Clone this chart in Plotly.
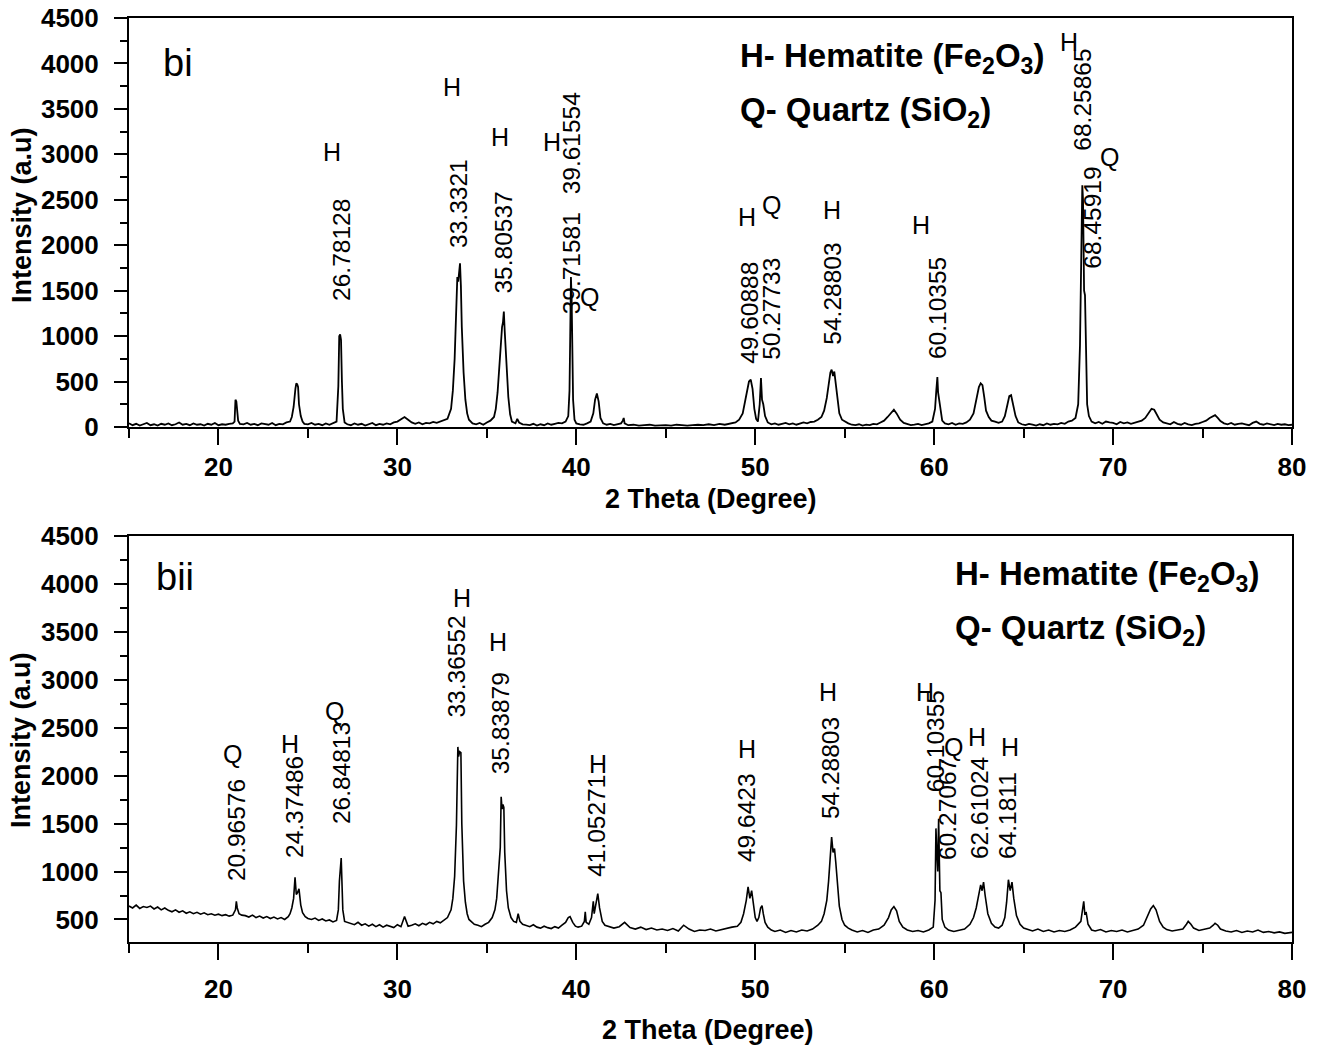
import plotly.graph_objects as go
from plotly.subplots import make_subplots

# ---------------- Panel bi : 2-theta / intensity ----------------
bi_theta = [
    15.0, 15.2, 15.4, 15.6, 15.8, 16.0, 16.2, 16.4, 16.6, 16.8,
    17.0, 17.2, 17.4, 17.6, 17.8, 18.0, 18.2, 18.4, 18.6, 18.8,
    19.0, 19.2, 19.4, 19.6, 19.8, 20.0, 20.2, 20.4, 20.6, 20.8,
    20.9, 20.95, 21.0, 21.05, 21.1, 21.2,
    21.4, 21.6, 21.8, 22.0, 22.2, 22.4, 22.6, 22.8, 23.0, 23.2, 23.4, 23.6, 23.8,
    24.0, 24.1, 24.2, 24.3, 24.35, 24.4, 24.45, 24.5, 24.6, 24.7, 24.8,
    25.0, 25.2, 25.4, 25.6, 25.8, 26.0, 26.2, 26.4,
    26.6, 26.7, 26.75, 26.8, 26.85, 26.9, 26.95, 27.05,
    27.2, 27.4, 27.6, 27.8, 28.0, 28.2, 28.4, 28.6, 28.8, 29.0, 29.2, 29.4, 29.6, 29.8,
    30.0, 30.2, 30.4, 30.6, 30.8,
    31.0, 31.2, 31.4, 31.6, 31.8, 32.0, 32.2, 32.4, 32.6,
    32.8, 33.0, 33.1, 33.2, 33.3, 33.35, 33.4, 33.45, 33.5, 33.55, 33.6, 33.7, 33.8, 33.9, 34.0, 34.2,
    34.4, 34.6, 34.8, 35.0, 35.2,
    35.4, 35.5, 35.6, 35.7, 35.8, 35.85, 35.9, 35.95, 36.0, 36.1, 36.2, 36.3, 36.4,
    36.6, 36.7, 36.8, 37.0,
    37.2, 37.4, 37.6, 37.8, 38.0, 38.2, 38.4, 38.6, 38.8, 39.0, 39.2, 39.4,
    39.55, 39.62, 39.66, 39.7, 39.74, 39.78, 39.82, 39.9, 40.0,
    40.2, 40.4, 40.6, 40.8,
    40.95, 41.05, 41.15, 41.25, 41.35, 41.5,
    41.7, 41.9, 42.1, 42.3, 42.5,
    42.6, 42.65, 42.7,
    42.9, 43.2, 43.5, 43.8, 44.1, 44.4, 44.7, 45.0, 45.3, 45.6,
    45.9, 46.2, 46.5, 46.8, 47.1, 47.4, 47.7, 48.0, 48.3, 48.6,
    48.9, 49.1, 49.3, 49.45, 49.55, 49.65, 49.75, 49.85, 49.95, 50.05, 50.15,
    50.25, 50.32, 50.38, 50.45, 50.55, 50.7,
    50.9, 51.1, 51.3, 51.5, 51.7, 51.9, 52.1, 52.3, 52.5, 52.7, 52.9, 53.1, 53.3, 53.5,
    53.7, 53.85, 54.0, 54.1, 54.2, 54.27, 54.35, 54.42, 54.5, 54.6, 54.7, 54.85, 55.0,
    55.2, 55.4, 55.6, 55.8, 56.0, 56.2, 56.4, 56.6, 56.8, 57.0, 57.2,
    57.4, 57.6, 57.75, 57.9, 58.1, 58.3,
    58.5, 58.7, 58.9, 59.1, 59.3, 59.5, 59.7, 59.9,
    60.05, 60.12, 60.18, 60.22, 60.28, 60.35, 60.45, 60.6,
    60.8, 61.0, 61.2, 61.4, 61.6, 61.8, 62.0,
    62.2, 62.35, 62.5, 62.6, 62.7, 62.8, 62.9, 63.05, 63.2,
    63.4, 63.6, 63.8,
    63.95, 64.1, 64.2, 64.3, 64.4, 64.55, 64.7,
    64.9, 65.1, 65.3, 65.5, 65.7, 65.9, 66.1, 66.3, 66.5, 66.7, 66.9, 67.1, 67.3, 67.5, 67.7, 67.9,
    68.05, 68.15, 68.22, 68.28, 68.32, 68.38, 68.43, 68.48, 68.55, 68.65, 68.8,
    69.0, 69.2, 69.4, 69.6, 69.8, 70.0, 70.2, 70.4, 70.6, 70.8, 71.0, 71.2, 71.4, 71.6,
    71.8, 72.0, 72.15, 72.3, 72.45, 72.6, 72.8,
    73.0, 73.2, 73.4, 73.6, 73.8, 74.0, 74.2, 74.4, 74.6, 74.8, 75.0, 75.2,
    75.4, 75.6, 75.7, 75.85, 76.0,
    76.2, 76.4, 76.6, 76.8, 77.0, 77.2, 77.4, 77.6, 77.8, 78.0,
    78.2, 78.4, 78.6, 78.8, 79.0, 79.2, 79.4, 79.6, 79.8, 80.0,
]
bi_intensity = [
    40, 20, 35, 15, 30, 45, 20, 30, 15, 35,
    25, 40, 20, 30, 50, 25, 35, 20, 40, 25,
    30, 15, 35, 25, 45, 20, 30, 25, 35, 40,
    60, 300, 280, 180, 70, 35,
    30, 45, 25, 35, 20, 40, 30, 25, 45, 20, 35, 30, 50,
    60, 110, 220, 420, 480, 470, 440, 250, 120, 60, 35,
    30, 45, 25, 35, 20, 40, 25, 40,
    60, 450, 1000, 1020, 960, 500, 200, 50,
    30, 20, 40, 25, 35, 15, 30, 45, 20, 35, 25, 40, 30, 50,
    60, 90, 110, 80, 50,
    35, 50, 30, 45, 40, 55, 45, 60, 70,
    90, 200, 400, 750, 1300, 1650, 1600, 1700, 1800, 1550, 1100, 600, 300, 150, 80, 40,
    30, 45, 25, 50, 70,
    110, 200, 380, 650, 1000, 1100, 1150, 1270, 1050, 700, 330, 140, 60,
    40, 90, 50, 30,
    25, 20, 35, 15, 30, 20, 40, 25, 35, 45, 40, 60,
    120, 400, 1000, 1650, 1400, 880, 300, 80, 40,
    30, 25, 40, 60,
    150, 300, 370, 280, 100, 40,
    25, 35, 20, 30, 40,
    70, 100, 40,
    20, 25, 15, 20, 25, 15, 20, 20, 15, 25,
    20, 15, 20, 25, 20, 30, 20, 35, 25, 40,
    50, 80, 150, 300, 420, 500, 520, 420, 200, 90, 60,
    250, 540, 300, 250, 120, 50,
    30, 40, 25, 35, 45, 30, 40, 25, 35, 50, 40, 55, 60, 80,
    110, 180, 320, 480, 600, 630, 560, 610, 480, 300, 150, 80, 60,
    40, 25, 20, 30, 15, 25, 20, 35, 30, 50, 70,
    110, 160, 190, 150, 80, 45,
    30, 20, 25, 35, 20, 30, 40, 60,
    200, 400, 550, 380, 300, 150, 70, 40,
    30, 45, 25, 40, 35, 50, 80,
    150, 300, 440, 480, 460, 330, 180, 110, 70,
    60, 45, 60,
    120, 250, 340, 350, 260, 120, 50,
    30, 20, 35, 25, 15, 30, 20, 40, 25, 35, 30, 45, 35, 60, 70, 100,
    250, 900, 1900, 2660, 2500, 1500, 1450, 800, 250, 120, 60,
    40, 55, 35, 60, 50, 45, 30, 55, 40, 50, 35, 45, 55, 70,
    100, 150, 200, 190, 130, 80, 50,
    40, 30, 55, 35, 25, 45, 30, 20, 35, 40, 55, 70,
    100, 125, 130, 100, 65,
    40, 30, 45, 25, 35, 40, 30, 20, 45, 60,
    35, 25, 40, 30, 20, 35, 25, 30, 20, 25,
]

# ---------------- Panel bii ----------------
bii_theta = [
    15.0, 15.2, 15.4, 15.6, 15.8, 16.0, 16.2, 16.4, 16.6, 16.8,
    17.0, 17.2, 17.4, 17.6, 17.8, 18.0, 18.2, 18.4, 18.6, 18.8,
    19.0, 19.2, 19.4, 19.6, 19.8, 20.0, 20.2, 20.4, 20.6, 20.8,
    20.95, 21.0, 21.05, 21.15, 21.3,
    21.5, 21.7, 21.9, 22.1, 22.3, 22.5, 22.7, 22.9, 23.1, 23.3, 23.5, 23.7, 23.9,
    24.0, 24.1, 24.2, 24.28, 24.35, 24.42, 24.5, 24.6, 24.7, 24.85, 25.0,
    25.2, 25.4, 25.6, 25.8, 26.0, 26.2, 26.4, 26.6,
    26.7, 26.76, 26.82, 26.86, 26.9, 26.95, 27.05, 27.2,
    27.4, 27.6, 27.8, 28.0, 28.2, 28.4, 28.6, 28.8, 29.0, 29.2,
    29.4, 29.6, 29.8, 30.0, 30.2, 30.4, 30.6, 30.8, 31.0, 31.2,
    31.4, 31.6, 31.8, 32.0, 32.2, 32.4, 32.6,
    32.8, 33.0, 33.1, 33.2, 33.3, 33.38, 33.42, 33.48, 33.55, 33.6, 33.7, 33.8, 33.9, 34.0, 34.15, 34.3,
    34.5, 34.7, 34.9, 35.1, 35.3,
    35.45, 35.55, 35.65, 35.75, 35.8, 35.85, 35.9, 35.95, 36.0, 36.1, 36.2, 36.35, 36.5,
    36.65, 36.75, 36.85, 37.0,
    37.2, 37.4, 37.6, 37.8, 38.0, 38.2, 38.4, 38.6, 38.8, 39.0, 39.2,
    39.4, 39.55, 39.65, 39.8, 39.95,
    40.1, 40.3,
    40.45, 40.5, 40.55, 40.7,
    40.85, 40.95, 41.0, 41.1, 41.2, 41.3, 41.45, 41.6,
    41.8, 42.1, 42.4, 42.7, 43.0, 43.3, 43.6, 43.9, 44.2, 44.5, 44.8, 45.1,
    45.4, 45.7, 46.0, 46.3, 46.6, 46.9, 47.2, 47.5, 47.8, 48.1, 48.4, 48.7,
    49.0, 49.2, 49.35, 49.5, 49.6, 49.7, 49.8, 49.9, 50.0, 50.1,
    50.2, 50.3, 50.38, 50.45, 50.55, 50.7, 50.9,
    51.1, 51.4, 51.7, 52.0, 52.3, 52.6, 52.9, 53.2, 53.5,
    53.7, 53.85, 54.0, 54.1, 54.2, 54.27, 54.35, 54.43, 54.5, 54.6, 54.7, 54.85, 55.0, 55.2,
    55.4, 55.7, 56.0, 56.3, 56.6, 56.9, 57.2,
    57.45, 57.6, 57.75, 57.9, 58.05, 58.25,
    58.5, 58.8, 59.1, 59.4, 59.7, 59.95,
    60.05, 60.1, 60.15, 60.2, 60.25, 60.32, 60.38, 60.45, 60.6,
    60.8, 61.1, 61.4, 61.7, 62.0,
    62.2, 62.35, 62.5, 62.6, 62.68, 62.76, 62.85, 63.0, 63.2, 63.4,
    63.6, 63.8,
    63.95, 64.05, 64.15, 64.25, 64.35, 64.45, 64.6, 64.8, 65.0,
    65.2, 65.5, 65.8, 66.1, 66.4, 66.7, 67.0, 67.3, 67.6, 67.9,
    68.2, 68.3, 68.36, 68.42, 68.5, 68.6, 68.8,
    69.0, 69.3, 69.6, 69.9, 70.2, 70.5, 70.8, 71.1, 71.4, 71.7,
    71.9, 72.1, 72.25, 72.4, 72.6, 72.8,
    73.0, 73.3, 73.6, 73.9,
    74.1, 74.2, 74.35, 74.5,
    74.8, 75.1, 75.4,
    75.6, 75.7, 75.85, 76.0,
    76.3, 76.6, 76.9, 77.2, 77.5, 77.8, 78.1, 78.4, 78.7, 79.0, 79.3, 79.6, 80.0,
]
bii_intensity = [
    640, 620, 650, 615, 635, 625, 640, 610, 630, 600,
    620, 595, 580, 600, 575, 590, 565, 580, 560, 575,
    555, 570, 550, 560, 545, 555, 540, 550, 535, 545,
    600, 690, 620, 560, 545,
    540, 525, 545, 520, 535, 515, 530, 510, 525, 505, 520, 500, 530,
    560, 620, 720, 940, 760, 780, 820, 650, 570, 530, 510,
    500, 515, 490, 505, 485, 495, 475, 490,
    600, 900, 1130, 1140, 900, 600, 480, 470,
    460, 445, 470, 440, 455, 430, 450, 425, 445, 420,
    440, 430, 415, 445, 425, 530, 430, 440, 455, 435,
    460, 445, 470, 455, 480, 465, 490,
    520, 600, 720, 950, 1480, 2300, 2200, 2250, 2240, 1500, 900, 680, 560, 500, 470, 450,
    440, 425, 450, 470, 520,
    600, 720, 950, 1250, 1780, 1650, 1700, 1670, 1200, 800, 620, 520, 480,
    470, 560, 480, 450,
    440, 425, 445, 420, 410, 430, 415, 405, 425, 410, 440,
    470, 520, 530, 470, 430,
    420, 430,
    480, 580, 470, 450,
    520, 690, 560, 650, 770, 620, 480, 440,
    430, 410, 425, 470, 415, 400, 420, 395, 410, 390, 400, 385,
    405, 380, 440, 400, 375, 390, 385, 400, 380, 395, 410, 420,
    430, 470, 560, 700, 840, 720, 800, 650, 520, 480,
    520, 620, 645, 560, 470, 420, 390,
    375, 390, 365, 385, 370, 390, 380, 400, 440,
    480, 560, 700, 900, 1150, 1360, 1200, 1240, 1100, 850, 640, 500, 440, 410,
    390, 370, 385, 365, 390, 400, 440,
    520, 600, 635, 590, 480, 420,
    390, 375, 385, 370, 390, 420,
    700, 1450, 1200, 1000, 1550, 800, 780, 500, 420,
    390, 375, 385, 400, 450,
    520, 620, 780, 860, 800, 890, 750, 560, 460, 420,
    410, 440,
    520, 680, 915, 800, 890, 720, 540, 450, 410,
    395, 380, 400, 375, 390, 370, 385, 375, 390, 420,
    480, 600, 690, 560, 570, 450, 390,
    380, 395, 370, 385, 375, 390, 370, 385, 400, 440,
    520, 610, 645, 600, 480, 420,
    395, 380, 390, 400,
    450, 480, 450, 410,
    385, 395, 410,
    440, 460, 440, 400,
    380, 370, 385, 365, 380, 370, 390, 365, 375, 360, 370, 355, 365,
]

assert len(bi_theta) == len(bi_intensity), (len(bi_theta), len(bi_intensity))
assert len(bii_theta) == len(bii_intensity), (len(bii_theta), len(bii_intensity))

# ---------------- Peak labels (text, 2-theta position, height of label centre) ----------------
bi_num_labels = ["26.78128", "33.3321", "35.80537", "39.61554", "39.71581",
                 "49.60888", "50.27733", "54.28803", "60.10355", "68.25865", "68.45919"]
bi_num_x = [26.84, 33.38, 35.93, 39.72, 39.72, 49.64, 50.87, 54.27, 60.16, 68.24, 68.8]
bi_num_y = [1947, 2464, 2035, 3124, 1804, 1254, 1298, 1463, 1309, 3597, 2299]
bi_phase_labels = ["H", "H", "H", "H", "Q", "H", "Q", "H", "H", "H", "Q"]
bi_phase_x = [26.34, 33.04, 35.73, 38.63, 40.75, 49.53, 50.92, 54.27, 59.25, 67.51, 69.8]
bi_phase_y = [3025, 3740, 3190, 3135, 1430, 2310, 2442, 2387, 2222, 4235, 2970]

bii_num_labels = ["20.96576", "24.37486", "26.84813", "33.36552", "35.83879", "41.05271",
                  "49.6423", "54.28803", "60.10355", "60.27067", "62.61024", "64.1811"]
bii_num_x = [21.05, 24.28, 26.85, 33.28, 35.74, 41.16, 49.55, 54.18, 60.05, 60.78, 62.57, 64.13]
bii_num_y = [1435, 1674, 2027, 3139, 2547, 1477, 1560, 2079, 2360, 1653, 1664, 1580]
bii_phase_labels = ["Q", "H", "Q", "H", "H", "H", "H", "H", "H", "Q", "H", "H"]
bii_phase_x = [20.81, 24.0, 26.51, 33.61, 35.63, 41.22, 49.55, 54.07, 59.49, 61.06, 62.40, 64.25]
bii_phase_y = [2225, 2329, 2671, 3856, 3399, 2121, 2277, 2869, 2869, 2297, 2401, 2297]

x_ticks = [20, 30, 40, 50, 60, 70, 80]
y_ticks_bi = [0, 500, 1000, 1500, 2000, 2500, 3000, 3500, 4000, 4500]
y_ticks_bii = [500, 1000, 1500, 2000, 2500, 3000, 3500, 4000, 4500]

# ---------------- Figure ----------------
W, H = 1318, 1049
ML, MR, MT, MB = 129, 26, 18, 107
fig = make_subplots(rows=2, cols=1, shared_xaxes=False, vertical_spacing=0.1)

fig.add_trace(go.Scatter(x=bi_theta, y=bi_intensity, mode="lines",
                         line=dict(color="black", width=1.8), showlegend=False), row=1, col=1)
fig.add_trace(go.Scatter(x=bii_theta, y=bii_intensity, mode="lines",
                         line=dict(color="black", width=1.6), showlegend=False), row=2, col=1)

FONT = "Arial, Liberation Sans, sans-serif"
tickfont = dict(family=FONT, size=26, color="black", weight="bold")

axis_common = dict(showline=True, linecolor="black", linewidth=2, mirror=True,
                   ticks="outside", tickcolor="black", tickwidth=2, automargin=False,
                   showgrid=False, zeroline=False, tickfont=tickfont)

fig.update_xaxes(range=[15, 80], tickvals=x_ticks, ticklen=16,
                 minor=dict(ticks="outside", dtick=5, tick0=15, ticklen=9,
                            tickwidth=2, tickcolor="black"),
                 **axis_common)
fig.update_yaxes(ticklen=13, minor=dict(ticks="outside", dtick=250, tick0=0, ticklen=7,
                                        tickwidth=2, tickcolor="black"),
                 **axis_common)

top_lo = (H - MB - 427) / (H - MT - MB)
bot_hi = (H - MB - 536) / (H - MT - MB)
fig.update_layout(
    yaxis=dict(domain=[top_lo, 1], range=[0, 4500], tickvals=y_ticks_bi, ticklabelstandoff=10),
    yaxis2=dict(domain=[0, bot_hi], range=[265, 4500], tickvals=y_ticks_bii, ticklabelstandoff=10),
    xaxis=dict(ticklabelstandoff=0),
    xaxis2=dict(ticklabelstandoff=7),
)

ann = []
num_font = dict(family=FONT, size=24.5, color="black")
let_font = dict(family=FONT, size=25, color="black")
for t, x, y in zip(bi_num_labels, bi_num_x, bi_num_y):
    ann.append(dict(text=t, x=x, y=y, xref="x", yref="y", textangle=-90,
                    xanchor="center", yanchor="middle", showarrow=False, font=num_font))
for t, x, y in zip(bi_phase_labels, bi_phase_x, bi_phase_y):
    ann.append(dict(text=t, x=x, y=y, xref="x", yref="y", xanchor="center", yanchor="middle",
                    showarrow=False, font=let_font))
for t, x, y in zip(bii_num_labels, bii_num_x, bii_num_y):
    ann.append(dict(text=t, x=x, y=y, xref="x2", yref="y2", textangle=-90,
                    xanchor="center", yanchor="middle", showarrow=False, font=num_font))
for t, x, y in zip(bii_phase_labels, bii_phase_x, bii_phase_y):
    ann.append(dict(text=t, x=x, y=y, xref="x2", yref="y2", xanchor="center", yanchor="middle",
                    showarrow=False, font=let_font))

# panel tags
ann.append(dict(text="bi", x=17.74, y=4004, xref="x", yref="y", showarrow=False,
                xanchor="center", yanchor="middle", font=dict(family=FONT, size=38, color="black")))
ann.append(dict(text="bii", x=17.57, y=4074, xref="x2", yref="y2", showarrow=False,
                xanchor="center", yanchor="middle", font=dict(family=FONT, size=38, color="black")))

# phase key
key_font = dict(family=FONT, size=33, color="black", weight="bold")
ann.append(dict(text="H- Hematite (Fe<sub>2</sub>O<sub>3</sub>)", x=49.04, y=4059, xref="x", yref="y",
                xanchor="left", yanchor="middle", showarrow=False, font=key_font))
ann.append(dict(text="Q- Quartz (SiO<sub>2</sub>)", x=49.04, y=3465, xref="x", yref="y",
                xanchor="left", yanchor="middle", showarrow=False, font=key_font))
ann.append(dict(text="H- Hematite (Fe<sub>2</sub>O<sub>3</sub>)", x=61.06, y=4084, xref="x2", yref="y2",
                xanchor="left", yanchor="middle", showarrow=False, font=key_font))
ann.append(dict(text="Q- Quartz (SiO<sub>2</sub>)", x=61.06, y=3523, xref="x2", yref="y2",
                xanchor="left", yanchor="middle", showarrow=False, font=key_font))

# axis titles
title_font = dict(family=FONT, size=27, color="black", weight="bold")
pw, ph = W - ML - MR, H - MT - MB
def px_to_paper(px, py):
    return (px - ML) / pw, (H - MB - py) / ph
for (px, py, txt, ang) in [(22, 215, "Intensity (a.u)", -90), (21, 740, "Intensity (a.u)", -90),
                           (711, 499, "2 Theta (Degree)", 0), (708, 1030, "2 Theta (Degree)", 0)]:
    xx, yy = px_to_paper(px, py)
    ann.append(dict(text=txt, x=xx, y=yy, xref="paper", yref="paper", textangle=ang,
                    xanchor="center", yanchor="middle", showarrow=False, font=title_font))

fig.update_layout(
    width=W, height=H, autosize=False,
    margin=dict(l=ML, r=MR, t=MT, b=MB),
    paper_bgcolor="white", plot_bgcolor="white",
    annotations=ann, showlegend=False,
)

fig.write_html("out.html")
